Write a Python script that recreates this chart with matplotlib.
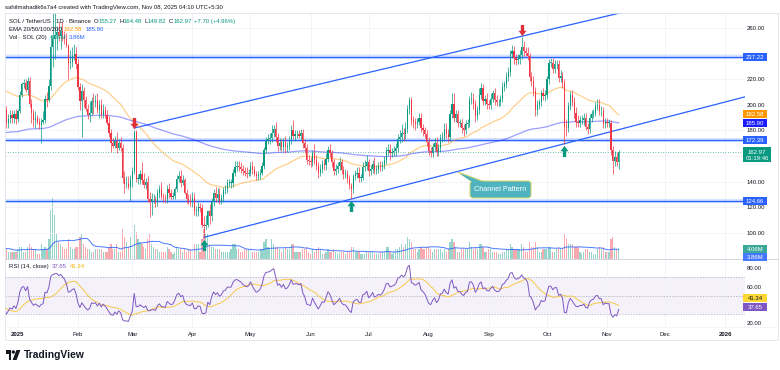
import matplotlib
matplotlib.use("Agg")
import matplotlib.pyplot as plt
import matplotlib.transforms as mtransforms
from matplotlib.patches import Rectangle, Polygon, FancyBboxPatch, Circle
from matplotlib.lines import Line2D
from matplotlib.path import Path
import numpy as np
import pandas as pd

plt.rcParams["font.family"] = ["Liberation Sans", "DejaVu Sans"]

W, H = 780, 370
FS = 4.3
DARK = "#131722"
UP = "#089981"
DOWN = "#f23645"
BLUE = "#2962ff"

# ---- daily SOL / USDT candles ----
first_day = "2024-12-01"
prev_close = 237  # 2024-11-30 close = first open

close_dec24 = [222, 228, 226, 235, 238, 240, 236, 238, 212, 210, 225, 228, 226, 222, 220, 216,
               213, 200, 195, 193, 188, 192, 197, 198, 196, 186, 189, 192, 190, 193, 189]
close_jan = [195, 208, 216, 217, 212, 219, 201, 194, 188, 190, 187, 184, 187, 188, 205, 204,
             215, 245, 252, 255, 257, 254, 258, 255, 252, 246, 233, 234, 238, 240, 232]
close_feb = [214, 203, 211, 204, 197, 192, 194, 203, 202, 203, 196, 200, 192, 196, 192, 186,
             178, 170, 168, 172, 166, 170, 166, 143, 138, 138, 136, 142]
close_mar = [148, 179, 142, 142, 146, 141, 137, 140, 126, 124, 126, 126, 124, 131, 134, 128,
             127, 126, 134, 131, 128, 129, 134, 142, 144, 139, 141, 131, 126, 125, 124]
close_apr = [127, 117, 117, 120, 119, 106, 105, 106, 117, 113, 124, 131, 127, 130, 125, 127,
             133, 134, 139, 139, 139, 147, 151, 152, 151, 150, 148, 147, 146, 147]
close_may = [152, 149, 146, 144, 145, 147, 152, 165, 172, 173, 174, 178, 181, 175, 168, 170,
             167, 171, 167, 168, 172, 180, 176, 177, 177, 176, 178, 170, 166, 157, 156]
close_jun = [155, 162, 157, 152, 147, 150, 154, 153, 158, 165, 162, 155, 148, 150, 152, 155,
             149, 146, 146, 142, 137, 134, 144, 146, 147, 143, 143, 151, 152, 155]
close_jul = [148, 150, 154, 149, 150, 152, 151, 153, 157, 164, 165, 162, 163, 164, 166, 173,
             175, 178, 177, 181, 197, 204, 188, 187, 185, 187, 190, 182, 180, 177, 171]
close_aug = [164, 162, 167, 170, 163, 166, 174, 175, 181, 177, 175, 193, 201, 190, 193, 186,
             186, 182, 180, 185, 186, 204, 205, 201, 191, 196, 208, 213, 203, 205, 201]
close_sep = [200, 205, 209, 204, 202, 202, 205, 214, 216, 222, 226, 240, 242, 237, 235, 236,
             239, 245, 242, 241, 238, 222, 219, 211, 196, 200, 202, 209, 207, 208]
close_oct = [220, 233, 233, 228, 232, 232, 221, 223, 217, 183, 182, 199, 208, 202, 194, 187,
             186, 188, 188, 190, 183, 181, 190, 193, 194, 199, 200, 195, 195, 185, 187]
close_nov = [186, 186, 165, 156, 159, 155.27, 162.97]

# upper / lower wick length above / below the candle body
up_dec24 = [6, 5, 6, 5, 4, 6, 5, 5, 3, 5, 4, 4, 5, 4, 4, 5, 4, 5, 6, 6, 5, 4, 4, 4, 4, 3, 4, 4, 4, 3, 4]
up_jan = [2, 3, 2, 3, 3, 3, 3, 4, 3, 5, 2, 3, 3, 7, 3, 5, 5, 10, 43, 21, 5, 8, 4, 7, 3, 4, 2, 9, 7, 8, 5]
up_feb = [4, 3, 5, 3, 3, 4, 9, 3, 6, 5, 6, 4, 5, 5, 3, 4, 5, 3, 4, 4, 7, 3, 5, 3, 5, 6, 6, 3]
up_mar = [3, 1, 1, 4, 3, 9, 6, 3, 4, 6, 5, 4, 3, 3, 3, 6, 3, 3, 3, 5, 3, 3, 2, 3, 4, 5, 4, 2, 3, 4, 5]
up_apr = [5, 4, 4, 4, 3, 3, 7, 8, 1, 5, 3, 3, 5, 5, 5, 3, 3, 3, 3, 3, 3, 3, 5, 4, 4, 4, 3, 3, 4, 3]
up_may = [3, 4, 3, 2, 3, 3, 3, 2, 3, 4, 4, 6, 3, 6, 3, 4, 3, 3, 5, 3, 4, 4, 8, 3, 3, 3, 3, 3, 3, 3, 4]
up_jun = [3, 3, 7, 4, 3, 4, 3, 4, 4, 3, 4, 3, 3, 4, 3, 4, 3, 3, 4, 3, 3, 2, 2, 3, 4, 4, 3, 4, 5, 6]
up_jul = [3, 3, 3, 5, 3, 3, 4, 3, 3, 3, 4, 4, 3, 4, 4, 4, 5, 7, 4, 6, 3, 2, 2, 3, 3, 3, 4, 4, 3, 3, 3]
up_aug = [4, 3, 3, 4, 5, 3, 3, 4, 5, 5, 4, 3, 8, 8, 3, 3, 3, 3, 3, 3, 3, 3, 5, 4, 3, 3, 5, 4, 3, 3, 4]
up_sep = [3, 4, 3, 4, 4, 3, 3, 4, 3, 4, 4, 3, 5, 4, 3, 4, 4, 8, 5, 3, 4, 3, 4, 4, 3, 4, 3, 3, 4, 4]
up_oct = [3, 3, 4, 4, 3, 3, 3, 4, 3, 3, 6, 3, 3, 4, 4, 4, 5, 3, 4, 4, 4, 3, 3, 3, 3, 3, 5, 5, 4, 3, 3]
up_nov = [3, 3, 2, 3, 5, 4, 1.51]

dn_dec24 = [5, 4, 5, 4, 5, 4, 5, 6, 10, 6, 4, 4, 4, 5, 4, 4, 4, 5, 8, 6, 5, 4, 4, 4, 5, 4, 4, 3, 4, 4, 4]
dn_jan = [2, 1, 2, 3, 2, 4, 3, 8, 5, 6, 2, 3, 14, 2, 2, 6, 2, 3, 15, 16, 12, 4, 10, 5, 4, 1, 13, 5, 4, 3, 4]
dn_feb = [2, 7, 28, 6, 2, 3, 5, 2, 9, 4, 2, 6, 2, 2, 2, 2, 3, 7, 2, 2, 4, 1, 2, 4, 7, 3, 2, 11]
dn_mar = [6, 2, 2, 4, 4, 3, 2, 3, 2, 12, 10, 3, 4, 3, 4, 2, 3, 3, 3, 4, 2, 2, 3, 2, 2, 3, 2, 1, 3, 3, 3]
dn_apr = [4, 3, 4, 4, 3, 2, 9, 2, 2, 6, 4, 3, 3, 3, 3, 3, 3, 3, 3, 3, 4, 3, 3, 3, 3, 3, 3, 3, 3, 2]
dn_may = [3, 3, 2, 3, 3, 3, 2, 2, 3, 3, 4, 3, 3, 4, 4, 3, 3, 3, 5, 4, 3, 3, 3, 4, 3, 2, 3, 4, 4, 3, 3]
dn_jun = [4, 3, 3, 3, 4, 3, 3, 4, 4, 3, 3, 4, 3, 3, 3, 3, 3, 4, 3, 3, 3, 8, 3, 3, 3, 3, 3, 2, 3, 3]
dn_jul = [4, 3, 3, 3, 3, 3, 3, 3, 3, 3, 3, 5, 3, 3, 4, 3, 3, 4, 5, 4, 3, 4, 4, 5, 5, 3, 3, 3, 4, 3, 3]
dn_aug = [3, 3, 3, 3, 3, 3, 3, 3, 3, 3, 4, 3, 3, 3, 3, 3, 3, 4, 4, 3, 3, 3, 3, 4, 4, 3, 3, 3, 3, 3, 4]
dn_sep = [3, 3, 3, 4, 3, 3, 3, 3, 3, 3, 3, 3, 3, 5, 4, 3, 4, 3, 4, 3, 3, 3, 4, 4, 5, 4, 3, 3, 3, 4]
dn_oct = [3, 4, 3, 3, 3, 4, 3, 3, 4, 14, 6, 3, 3, 3, 4, 4, 3, 3, 3, 4, 3, 4, 3, 3, 3, 3, 3, 3, 4, 3, 3]
dn_nov = [3, 3, 4, 10, 4, 3, 5.45]

# volume, millions of SOL
vol_dec24 = [5, 6, 5, 4, 5, 4, 4, 4, 8, 7, 5, 4, 3, 3, 3, 3, 3, 5, 6, 5, 4, 4, 4, 3, 3, 4, 3, 3, 3, 3, 3]
vol_jan = [4, 5, 5, 3, 3, 5, 6, 5, 4, 4, 2, 2, 6, 4, 5, 4, 8, 20, 25, 18, 10, 7, 6, 5, 4, 4, 8, 5, 4, 4, 5]
vol_feb = [5, 9, 10, 6, 5, 4, 4, 3, 3, 4, 4, 4, 4, 3, 3, 3, 5, 6, 4, 4, 6, 3, 3, 12, 9, 7, 5, 9]
vol_mar = [6, 14, 11, 8, 7, 6, 5, 4, 8, 10, 6, 5, 4, 4, 3, 3, 3, 3, 5, 4, 3, 2, 3, 5, 4, 4, 3, 4, 3, 4, 4]
vol_apr = [5, 6, 6, 6, 3, 8, 12, 10, 10, 6, 5, 5, 4, 4, 4, 3, 3, 3, 3, 3, 4, 6, 6, 4, 4, 3, 3, 4, 4, 4]
vol_may = [4, 3, 3, 3, 3, 4, 4, 7, 8, 5, 4, 8, 6, 5, 5, 4, 3, 4, 5, 4, 4, 6, 6, 3, 3, 3, 3, 4, 4, 5, 3]
vol_jun = [2, 4, 3, 4, 5, 4, 2, 2, 3, 4, 3, 3, 4, 3, 2, 3, 3, 3, 2, 3, 3, 5, 5, 3, 3, 3, 2, 2, 2, 3]
vol_jul = [3, 3, 3, 2, 2, 2, 3, 3, 3, 5, 5, 3, 2, 3, 4, 4, 5, 6, 5, 6, 9, 8, 7, 4, 4, 3, 4, 5, 4, 4, 5]
vol_aug = [5, 4, 3, 4, 4, 4, 4, 3, 4, 3, 4, 7, 8, 7, 5, 3, 3, 4, 4, 4, 4, 7, 5, 4, 5, 4, 6, 6, 5, 3, 3]
vol_sep = [4, 4, 3, 3, 3, 2, 2, 3, 3, 4, 4, 6, 5, 4, 4, 4, 4, 6, 5, 3, 3, 7, 5, 5, 7, 5, 3, 3, 4, 4]
vol_oct = [4, 5, 5, 3, 3, 4, 5, 4, 4, 10, 8, 6, 6, 6, 5, 5, 5, 3, 2, 3, 4, 4, 3, 3, 2, 2, 4, 5, 4, 5, 3]
vol_nov = [3, 3, 8, 9, 5, 4, 4.06]

ema_seeds = [212, 168]            # EMA 50 / EMA 200 value on the first day
levels = [237.22, 172.39, 124.66]
last_ohlc = [155.27, 164.48, 149.82, 162.97]
ema_last = [192.58, 185.90]
vol_last = [4.06, 3.86]
rsi_last = [37.65, 41.34]
countdown = "01:19:46"
upper_channel = [("2025-03-02", 181.9), ("2025-09-18", 253.8)]
lower_channel = [("2025-04-07", 96.3), ("2025-10-10", 169.6)]
sell_signals = ["2025-03-02", "2025-09-18"]
buy_signals = ["2025-04-07", "2025-06-22", "2025-10-10"]
price_ticks = [100, 120, 140, 160, 180, 200, 220, 240, 260]
hidden_price_ticks = [160, 240]   # covered by the price tags
rsi_ticks = [20, 40, 60, 80]
hidden_rsi_ticks = [40]
month_labels = ["2025", "Feb", "Mar", "Apr", "May", "Jun", "Jul", "Aug", "Sep", "Oct", "Nov", "Dec", "2026"]

# ---- assemble ----
close = np.array(close_dec24 + close_jan + close_feb + close_mar + close_apr + close_may + close_jun
                 + close_jul + close_aug + close_sep + close_oct + close_nov, dtype=float)
wick_up = np.array(up_dec24 + up_jan + up_feb + up_mar + up_apr + up_may + up_jun + up_jul + up_aug
                   + up_sep + up_oct + up_nov, dtype=float)
wick_dn = np.array(dn_dec24 + dn_jan + dn_feb + dn_mar + dn_apr + dn_may + dn_jun + dn_jul + dn_aug
                   + dn_sep + dn_oct + dn_nov, dtype=float)
volume = np.array(vol_dec24 + vol_jan + vol_feb + vol_mar + vol_apr + vol_may + vol_jun + vol_jul
                  + vol_aug + vol_sep + vol_oct + vol_nov, dtype=float)
if not (len(close) == len(wick_up) == len(wick_dn) == len(volume)):
    raise ValueError(f"length mismatch {len(close)} {len(wick_up)} {len(wick_dn)} {len(volume)}")

T0 = pd.Timestamp("2025-01-01")


def dnum(s):
    return (pd.Timestamp(s) - T0).days


dates = pd.date_range(first_day, periods=len(close), freq="D")
day = (dates - T0).days.to_numpy()
opens = np.concatenate([[prev_close], close[:-1]])
highs = np.maximum(opens, close) + wick_up
lows = np.minimum(opens, close) - wick_dn
rising = close >= opens


def ema(values, n, seed):
    a = 2 / (n + 1)
    out, e = [], seed
    for v in values:
        e = e + a * (v - e)
        out.append(e)
    return np.array(out)


ema50 = ema(close, 50, ema_seeds[0])
ema200 = ema(close, 200, ema_seeds[1])
vol_sma = pd.Series(volume).rolling(20, min_periods=1).mean().to_numpy()

delta = np.diff(close, prepend=close[0])
gain = pd.Series(np.clip(delta, 0, None)).ewm(alpha=1 / 14, adjust=False).mean()
loss = pd.Series(np.clip(-delta, 0, None)).ewm(alpha=1 / 14, adjust=False).mean()
rsi = (100 - 100 / (1 + gain / loss.replace(0, np.nan))).fillna(50)
rsi_ma = rsi.rolling(14, min_periods=1).mean()

# ---- figure ----
fig = plt.figure(figsize=(W / 100, H / 100), dpi=100)
fig.patch.set_facecolor("white")
PX = mtransforms.Affine2D().scale(1 / W, -1 / H).translate(0, 1) + fig.transFigure


def rect(top, bottom):
    return [5 / W, 1 - bottom / H, 740 / W, (bottom - top) / H]


ax_vol = fig.add_axes(rect(13, 259))
ax = fig.add_axes(rect(13, 259), sharex=ax_vol)
ax.patch.set_alpha(0)
ax_rsi = fig.add_axes(rect(259, 327), sharex=ax_vol)

x_left, x_right = (5 - 17.9) / 1.938, (745 - 17.9) / 1.938
ax_vol.set_xlim(x_left, x_right)
ax.set_ylim(79.3, 272.0)
ax_vol.set_ylim(0, 100)
ax_rsi.set_ylim(16.0, 90.1)

month_days = [dnum(d) for d in pd.date_range("2025-01-01", "2026-01-01", freq="MS")]
for a in (ax_vol, ax, ax_rsi):
    for s in a.spines.values():
        s.set_visible(False)
ax_vol.set_yticks([])
ax_vol.tick_params(axis="x", length=0, labelbottom=False)
ax_vol.grid(axis="x", color="#f0f3fa", lw=0.6)
ax.tick_params(axis="x", length=0, labelbottom=False)

ax.yaxis.tick_right()
ax.set_yticks(price_ticks, ["" if t in hidden_price_ticks else f"{t:.2f}" for t in price_ticks])
ax.tick_params(axis="y", length=0, pad=1.2, labelsize=FS, labelcolor=DARK)
ax.set_axisbelow(True)
ax.grid(axis="y", color="#f0f3fa", lw=0.6)

ax_rsi.yaxis.tick_right()
ax_rsi.set_yticks(rsi_ticks, ["" if t in hidden_rsi_ticks else f"{t:.2f}" for t in rsi_ticks])
ax_rsi.tick_params(axis="y", length=0, pad=1.2, labelsize=FS, labelcolor=DARK)
ax_rsi.set_xticks(month_days, month_labels)
ax_rsi.tick_params(axis="x", length=0, pad=3.5, labelsize=FS, labelcolor=DARK)
for lab in ax_rsi.get_xticklabels():
    if lab.get_text().isdigit():
        lab.set_fontweight("bold")
ax_rsi.grid(axis="x", color="#f0f3fa", lw=0.6)

# volume
vcol = [UP if r else DOWN for r in rising]
ax_vol.bar(day, volume, width=0.62, color=vcol, alpha=0.42, lw=0)
ax_vol.plot(day, vol_sma, color=BLUE, lw=0.7, alpha=0.85)

# levels and channel
for lv in levels:
    ax.axhline(lv, color=BLUE, lw=2.6, alpha=0.22, zorder=2)
    ax.axhline(lv, color=BLUE, lw=0.9, zorder=2)
ax.axhline(last_ohlc[3], color=UP, lw=0.6, ls=(0, (1, 2)), alpha=0.8, zorder=2)

for pts in (upper_channel, lower_channel):
    (d0, p0), (d1, p1) = [(dnum(d), p) for d, p in pts]
    xs = np.array([d0, 420])
    ax.plot(xs, p0 + (p1 - p0) / (d1 - d0) * (xs - d0), color=BLUE, lw=0.9, zorder=3)

ax.plot(day, ema50, color="#ff9800", lw=0.9, alpha=0.45, zorder=3)
ax.plot(day, ema200, color="#2a2aff", lw=0.9, alpha=0.45, zorder=3)

# candles
ccol = np.where(rising, UP, DOWN)
ax.vlines(day, lows, highs, colors=ccol, lw=0.5, zorder=4)
ax.bar(day, np.maximum(np.abs(close - opens), 0.4), bottom=np.minimum(opens, close),
       width=0.62, color=ccol, lw=0, zorder=4)

# signal arrows
down_arrow = Path([(-0.15, 0.5), (0.15, 0.5), (0.15, -0.02), (0.36, -0.02), (0, -0.5),
                   (-0.36, -0.02), (-0.15, -0.02), (-0.15, 0.5)], closed=True)
up_arrow = Path([(x, -y) for x, y in down_arrow.vertices], closed=True)
above = mtransforms.offset_copy(ax.transData, fig=fig, y=7, units="dots")
below = mtransforms.offset_copy(ax.transData, fig=fig, y=-7, units="dots")
for s in sell_signals:
    i = np.searchsorted(day, dnum(s))
    ax.plot(day[i], highs[i], marker=down_arrow, ms=8, color="#e0303c", mew=0,
            transform=above, zorder=6, clip_on=False)
for s in buy_signals:
    i = np.searchsorted(day, dnum(s))
    ax.plot(day[i], lows[i], marker=up_arrow, ms=8, color=UP, mew=0,
            transform=below, zorder=6, clip_on=False)

# rsi pane
ax_rsi.axhspan(30, 70, color="#7e57c2", alpha=0.08, lw=0)
for lv in (70, 50, 30):
    ax_rsi.axhline(lv, color="#9598a1", lw=0.5, ls=(0, (2, 2)), alpha=0.8)
ax_rsi.plot(day, rsi_ma, color="#f7c948", lw=0.7)
ax_rsi.plot(day, rsi, color="#7e57c2", lw=0.7)

# ---- pixel layout: frame, callout, tags, legends ----
fig.add_artist(Rectangle((4.5, 13), 773.5, 326.5, transform=PX, fill=False, ec="#e0e3eb", lw=0.6))
fig.add_artist(Line2D([5, 778], [259, 259], transform=PX, color="#d1d4dc", lw=0.7))
fig.add_artist(Line2D([5, 778], [327, 327], transform=PX, color="#eef0f4", lw=0.5))

fig.add_artist(Polygon([(458, 172), (472, 181.6), (484, 181.6)], transform=PX,
                       fc="#4fb3bf", ec="#d8d86a", lw=0.7, zorder=4))
fig.add_artist(FancyBboxPatch((470, 181), 61, 17, boxstyle="round,pad=0,rounding_size=3",
                              transform=PX, fc="#4fb3bf", ec="#d8d86a", lw=0.7, zorder=4))
fig.add_artist(Polygon([(459.5, 173.5), (472.5, 182.2), (483, 182.2)], transform=PX,
                       fc="#4fb3bf", ec="none", zorder=4.5))
fig.text(500.5, 189.8, "Channel Pattern", transform=PX, ha="center", va="center",
         fontsize=5.2, color="white", zorder=5)


def ypx(a, v):
    return H - a.transData.transform((0, v))[1]


def tag(y, text, fc, tc="white", w=24, h=8, x0=743):
    fig.add_artist(Rectangle((x0, y - h / 2), w, h, transform=PX, fc=fc, ec="none", zorder=5))
    fig.text(x0 + w / 2, y + 0.3, text, transform=PX, ha="center", va="center",
             fontsize=FS, color=tc, zorder=6)


tag(ypx(ax, levels[0]), f"{levels[0]:.2f}", BLUE)
tag(ypx(ax, ema_last[0]), f"{ema_last[0]:.2f}", "#ff9800")
tag(ypx(ax, ema_last[1]), f"{ema_last[1]:.2f}", "#1c1cff")
tag(ypx(ax, levels[1]), f"{levels[1]:.2f}", BLUE)
tag(ypx(ax, levels[2]), f"{levels[2]:.2f}", BLUE)
yl = ypx(ax, last_ohlc[3])
fig.add_artist(Rectangle((743, yl - 5), 28, 15, transform=PX, fc=UP, ec="none", zorder=5))
fig.text(757, yl + 0.3, f"{last_ohlc[3]:.2f}", transform=PX, ha="center", va="center",
         fontsize=FS, color="white", zorder=6)
fig.text(757, yl + 6.6, countdown, transform=PX, ha="center", va="center",
         fontsize=FS, color="white", zorder=6)
tag(ypx(ax_vol, vol_last[0]), f"{vol_last[0]:.2f}M", "#3aa898")
tag(ypx(ax_vol, vol_last[1]) + 7.5, f"{vol_last[1]:.2f}M", "#4677ff")
tag(ypx(ax_rsi, rsi_last[1]) - 5.5, f"{rsi_last[1]:.2f}", "#fdd835", tc=DARK)
tag(ypx(ax_rsi, rsi_last[0]), f"{rsi_last[0]:.2f}", "#7e57c2")

renderer = fig.canvas.get_renderer()


def chain(x, y, pieces, size=FS, weight="normal"):
    for s, col, gap in pieces:
        t = fig.text(x, y, s, transform=PX, fontsize=size, color=col, va="center", ha="left",
                     fontweight=weight, zorder=7)
        x += t.get_window_extent(renderer).width + gap


chain(5, 7, [("sahilmahadik6s7a4 created with TradingView.com, Nov 08, 2025 04:10 UTC+5:30", DARK, 0)])
o, h, l, c = last_ohlc
chain(9, 21.7, [("SOL / TetherUS · 1D · Binance", DARK, 3),
                ("O", DARK, 0), (f"{o:.2f}", UP, 2.5),
                ("H", DARK, 0), (f"{h:.2f}", UP, 2.5),
                ("L", DARK, 0), (f"{l:.2f}", UP, 2.5),
                ("C", DARK, 0), (f"{c:.2f}", UP, 2.5),
                (f"+{c - o:.2f} (+{(c - o) / o * 100:.2f}%)", UP, 0)])
chain(9, 29.5, [("EMA 20/50/100/200", DARK, 2), (f"{ema_last[0]:.2f}", "#ff9800", 3),
                (f"{ema_last[1]:.2f}", BLUE, 0)])
chain(9, 37.3, [("Vol · SOL (20)", DARK, 3), (f"{vol_last[0]:.2f}M", UP, 3),
                (f"{vol_last[1]:.2f}M", BLUE, 0)])
chain(9, 266.7, [("RSI (14, close)", DARK, 3), (f"{rsi_last[0]:.2f}", "#7e57c2", 3),
                 (f"{rsi_last[1]:.2f}", "#f0b400", 0)])

# TradingView logo
fig.add_artist(Polygon([(6, 350), (11.4, 350), (11.4, 360), (8.7, 360), (8.7, 353.6), (6, 353.6)],
                       transform=PX, fc=DARK, ec="none"))
fig.add_artist(Circle((13.3, 352), 1.7, transform=PX, fc=DARK, ec="none"))
fig.add_artist(Polygon([(16.4, 350), (20.4, 350), (16.6, 360), (12.6, 360)],
                       transform=PX, fc=DARK, ec="none"))
fig.text(23.5, 355.3, "TradingView", transform=PX, fontsize=7.4, fontweight="bold",
         color=DARK, va="center", ha="left")

fig.savefig("out.png", dpi=100, facecolor="white")
